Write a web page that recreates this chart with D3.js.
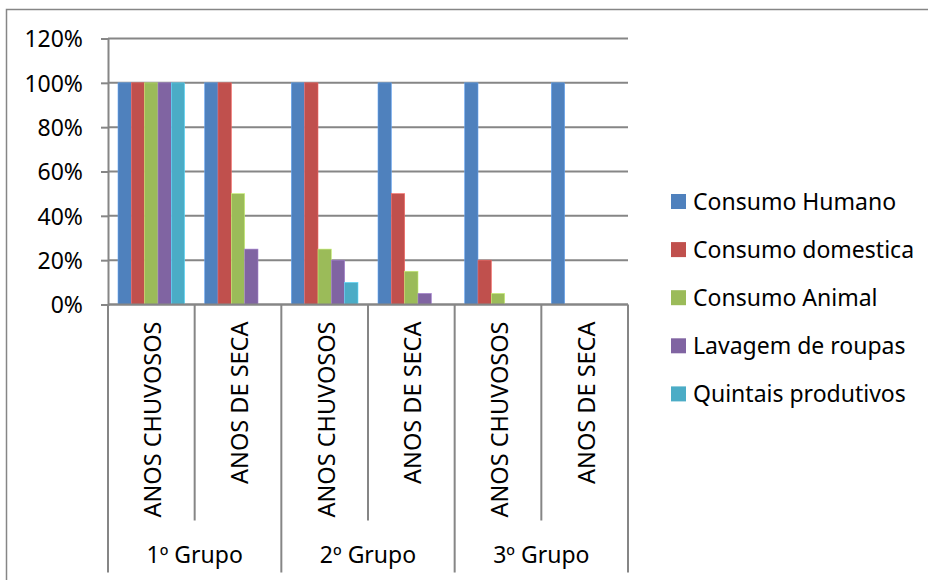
<!DOCTYPE html>
<html>
<head>
<meta charset="utf-8">
<script src="https://cdn.jsdelivr.net/npm/d3@7"></script>
<style>
  body { margin: 0; background: #fff; }
  svg text { font-family: "Noto Sans", sans-serif; fill: #000; }
</style>
</head>
<body>
<svg id="chart" width="928" height="580"></svg>
<script>
const groups = ["1º Grupo", "2º Grupo", "3º Grupo"];
const periods = ["ANOS CHUVOSOS", "ANOS DE SECA"];
const seriesNames = ["Consumo Humano", "Consumo domestica", "Consumo Animal", "Lavagem de roupas", "Quintais produtivos"];
const seriesColors = ["#4F81BD", "#C0504D", "#9BBB59", "#8064A2", "#4BACC6"];

// values in %, one per category (group x period)
const consumoHumano    = [100, 100, 100, 100, 100, 100];
const consumoDomestica = [100, 100, 100, 50, 20, 0];
const consumoAnimal    = [100, 50, 25, 15, 5, 0];
const lavagemRoupas    = [100, 25, 20, 5, 0, 0];
const quintais         = [100, 0, 10, 0, 0, 0];
const yTicks = [0, 20, 40, 60, 80, 100, 120];

const seriesValues = [consumoHumano, consumoDomestica, consumoAnimal, lavagemRoupas, quintais];

const categories = [];
groups.forEach(g => periods.forEach(p => categories.push({ key: g + "|" + p, group: g, label: p })));

const data = categories.map((c, i) => ({
  ...c,
  values: seriesNames.map((s, j) => ({ name: s, value: seriesValues[j][i] }))
}));

const margin = { left: 108, right: 300, top: 38.5, bottom: 275.5 };
const width = 928 - margin.left - margin.right,
  height = 580 - margin.top - margin.bottom;

const svg = d3.select("#chart");
const grid = "#868686";

// outer chart border
svg.append("rect")
  .attr("x", 6.5).attr("y", 9.5)
  .attr("width", 1000).attr("height", 1000)
  .attr("fill", "none").attr("stroke", grid).attr("stroke-width", 1.5);

const chart = svg.append("g")
  .attr("transform", `translate(${margin.left}, ${margin.top})`);

const x0 = d3.scaleBand()
  .domain(categories.map(d => d.key))
  .range([0, width]);

const x1 = d3.scaleBand()
  .domain(seriesNames)
  .range([0, x0.bandwidth()])
  .paddingOuter(0.75);

const y = d3.scaleLinear()
  .domain([0, 120])
  .range([height, 0]);

const color = d3.scaleOrdinal().domain(seriesNames).range(seriesColors);

// gridlines
chart.selectAll(".grid")
  .data(yTicks)
  .join("line")
  .attr("class", "grid")
  .attr("x1", 0).attr("x2", width)
  .attr("y1", d => y(d)).attr("y2", d => y(d))
  .attr("stroke", grid).attr("stroke-width", 2);

// bars
const cat = chart.selectAll(".cat")
  .data(data)
  .join("g")
  .attr("class", "cat")
  .attr("transform", d => `translate(${x0(d.key)}, 0)`);

cat.selectAll("rect")
  .data(d => d.values.filter(v => v.value > 0))
  .join("rect")
  .attr("x", d => x1(d.name))
  .attr("y", d => y(d.value))
  .attr("width", x1.bandwidth())
  .attr("height", d => height - y(d.value))
  .attr("fill", d => color(d.name))
  .attr("stroke", d => d3.color(color(d.name)).brighter(0.7))
  .attr("stroke-width", 0.6);

// y axis
const yAxis = chart.append("g")
  .call(d3.axisLeft(y).tickValues(yTicks).tickSize(7).tickPadding(18).tickFormat(d => d + "%"));
yAxis.select(".domain").attr("stroke", grid).attr("stroke-width", 2);
yAxis.selectAll(".tick line").attr("stroke", grid).attr("stroke-width", 2);
yAxis.selectAll("text").style("font-size", "23px").attr("dy", "0.36em");

// x axis line
chart.append("line")
  .attr("x1", 0).attr("x2", width)
  .attr("y1", height).attr("y2", height)
  .attr("stroke", grid).attr("stroke-width", 2);

// category separators
const bounds = categories.map((c, i) => ({ x: x0(c.key), groupStart: i % periods.length === 0 }));
bounds.push({ x: width, groupStart: true });

chart.selectAll(".sep")
  .data(bounds)
  .join("line")
  .attr("class", "sep")
  .attr("x1", d => d.x).attr("x2", d => d.x)
  .attr("y1", height)
  .attr("y2", d => d.groupStart ? 534 : 482)
  .attr("stroke", grid).attr("stroke-width", 2);

// rotated category labels
chart.selectAll(".cat-label")
  .data(categories)
  .join("text")
  .attr("class", "cat-label")
  .attr("transform", d => `translate(${x0(d.key) + x0.bandwidth() / 2 + 10}, ${height + 17}) rotate(-90)`)
  .attr("text-anchor", "end")
  .style("font-size", "23.5px")
  .text(d => d.label);

// group labels
const groupStep = width / groups.length;
chart.selectAll(".group-label")
  .data(groups)
  .join("text")
  .attr("class", "group-label")
  .attr("x", (d, i) => groupStep * i + groupStep / 2)
  .attr("y", 524.5)
  .attr("text-anchor", "middle")
  .style("font-size", "23px")
  .text(d => d);

// legend
const legend = svg.append("g")
  .attr("transform", "translate(671, 194)");

const items = legend.selectAll(".legend-item")
  .data(seriesNames)
  .join("g")
  .attr("class", "legend-item")
  .attr("transform", (d, i) => `translate(0, ${i * 48.1})`);

items.append("rect")
  .attr("width", 15)
  .attr("height", 15)
  .attr("fill", d => color(d));

items.append("text")
  .attr("x", 22)
  .attr("y", 16)
  .style("font-size", "23px")
  .text(d => d);
</script>
</body>
</html>
